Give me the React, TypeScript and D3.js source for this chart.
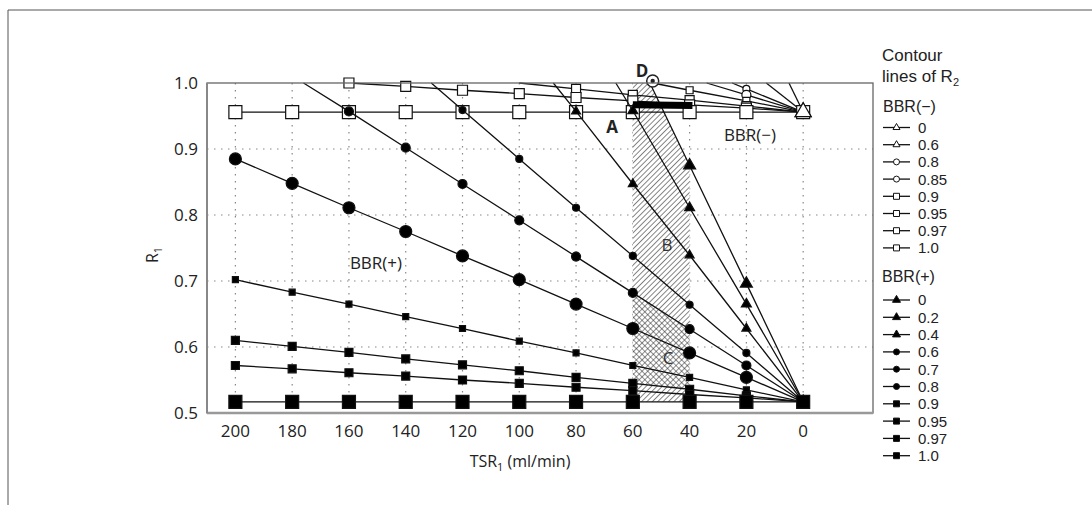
import React from "react";
import * as d3 from "d3";

// TSR1 positions where markers sit (ml/min)
const tsrTicks = [200, 180, 160, 140, 120, 100, 80, 60, 40, 20, 0];
const r1Ticks = [0.5, 0.6, 0.7, 0.8, 0.9, 1.0];

// BBR(+) contour lines of R2 (R1 at each TSR tick, null = above plot)
const plusLevels = ["0", "0.2", "0.4", "0.6", "0.7", "0.8", "0.9", "0.95", "0.97", "1.0"];
const plusR1: (number | null)[][] = [
  [null, null, null, null, null, null, null, null, 0.875, 0.696, 0.517],
  [null, null, null, null, null, null, null, 0.958, 0.811, 0.665, 0.517],
  [null, null, null, null, null, null, 0.957, 0.847, 0.739, 0.628, 0.517],
  [null, null, null, null, 0.959, 0.885, 0.811, 0.738, 0.664, 0.591, 0.517],
  [null, null, 0.957, 0.902, 0.847, 0.792, 0.737, 0.682, 0.627, 0.572, 0.517],
  [0.885, 0.848, 0.811, 0.775, 0.738, 0.702, 0.665, 0.628, 0.591, 0.554, 0.517],
  [0.702, 0.683, 0.665, 0.646, 0.628, 0.609, 0.591, 0.572, 0.554, 0.535, 0.517],
  [0.61, 0.601, 0.592, 0.582, 0.573, 0.564, 0.554, 0.545, 0.536, 0.526, 0.517],
  [0.572, 0.567, 0.561, 0.556, 0.55, 0.545, 0.539, 0.534, 0.528, 0.523, 0.517],
  [0.517, 0.517, 0.517, 0.517, 0.517, 0.517, 0.517, 0.517, 0.517, 0.517, 0.517],
];
// TSR1 where each line leaves the top of the plot (R1 = 1.0)
const plusTop: (number | null)[] = [54, 66, 88, 131, 176, null, null, null, null, null];

// BBR(-) contour lines of R2
const minusLevels = ["0", "0.6", "0.8", "0.85", "0.9", "0.95", "0.97", "1.0"];
const minusR1: (number | null)[][] = [
  [null, null, null, null, null, null, null, null, null, null, 0.956],
  [null, null, null, null, null, null, null, null, null, null, 0.956],
  [null, null, null, null, null, null, null, null, null, 0.991, 0.956],
  [null, null, null, null, null, null, null, null, null, 0.982, 0.956],
  [null, null, null, null, null, null, null, null, 0.989, 0.973, 0.956],
  [null, null, null, null, null, null, 0.991, 0.982, 0.974, 0.965, 0.956],
  [null, null, 1.0, 0.995, 0.989, 0.984, 0.978, 0.973, 0.967, 0.962, 0.956],
  [0.956, 0.956, 0.956, 0.956, 0.956, 0.956, 0.956, 0.956, 0.956, 0.956, 0.956],
];
const minusTop: (number | null)[] = [5, 13, 25, 34, 53, 100, 160, null];

// shaded regions
const hatchTsr = [60, 54, 40, 40, 60];
const hatchR1 = [1.0, 1.0, 0.875, 0.517, 0.517];
const crossTsr = [60, 40, 40, 60];
const crossR1 = [0.682, 0.627, 0.536, 0.545];
const barTsr = [60, 39];
const barR1 = [0.967, 0.966];
const pointD = { tsr: 53, r1: 1.0 };

// marker styles (shape, size in px)
const plusShape = ["tri", "tri", "tri", "circle", "circle", "circle", "square", "square", "square", "square"];
const plusSize = [12, 10, 9, 7, 9, 12, 6, 8, 8, 13];
const minusShape = ["tri", "tri", "circle", "circle", "square", "square", "square", "square"];
const minusSize = [16, 10, 7, 9, 7, 9, 10, 13];

const FONT = "'Open Sans', 'Noto Sans', sans-serif";
const LEG_FONT = "'Liberation Sans', 'Open Sans', sans-serif";

const x = d3.scaleLinear().domain([210, -24.6]).range([207, 873]);
const y = d3.scaleLinear().domain([0.5, 1.0]).range([413, 83]);

function symbolPath(shape: string, px: number) {
  if (shape === "tri") {
    return d3.symbol().type(d3.symbolTriangle).size((Math.sqrt(3) / 4) * px * px)()!;
  }
  if (shape === "circle") {
    return d3.symbol().type(d3.symbolCircle).size((Math.PI / 4) * px * px)()!;
  }
  return d3.symbol().type(d3.symbolSquare).size(px * px)()!;
}

function seriesPoints(vals: (number | null)[], top: number | null) {
  const pts: [number, number][] = [];
  if (top !== null) pts.push([top, 1.0]);
  vals.forEach((v, i) => {
    if (v !== null) pts.push([tsrTicks[i], v]);
  });
  return pts;
}

const line = d3
  .line<[number, number]>()
  .x((d) => x(d[0]))
  .y((d) => y(d[1]));

function Series({ vals, top, shape, size, filled }: any) {
  const pts = seriesPoints(vals, top);
  const marks = vals
    .map((v: number | null, i: number) => (v === null ? null : [tsrTicks[i], v]))
    .filter((d: any) => d !== null);
  return (
    <g>
      <path d={line(pts) || ""} fill="none" stroke="#111" strokeWidth={1.3} />
      {marks.map((d: any, i: number) => (
        <path
          key={i}
          d={symbolPath(shape, size)}
          transform={`translate(${x(d[0])},${y(d[1])})`}
          fill={filled ? "#000" : "#fff"}
          stroke="#111"
          strokeWidth={1.2}
        />
      ))}
    </g>
  );
}

export default function App() {
  const plotL = x(210), plotR = x(-24.6), plotT = y(1.0), plotB = y(0.5);
  const hatchPts = hatchTsr.map((t, i) => `${x(t)},${y(hatchR1[i])}`).join(" ");
  const crossPts = crossTsr.map((t, i) => `${x(t)},${y(crossR1[i])}`).join(" ");

  const legX = 883;
  const minusRowY = (i: number) => 127.5 + i * 17.2;
  const plusRowY = (i: number) => 300 + i * 17.3;

  return (
    <svg
      width={1092}
      height={505}
      style={{ position: "absolute", left: 0, top: 0, background: "#fff" }}
      fontFamily={FONT}
    >
      <defs>
        <pattern id="hatch" width={3.8} height={3.8} patternUnits="userSpaceOnUse" patternTransform="rotate(45)">
          <line x1={0} y1={0} x2={0} y2={3.8} stroke="#222" strokeWidth={1.1} />
        </pattern>
        <pattern id="cross" width={4} height={4} patternUnits="userSpaceOnUse" patternTransform="rotate(45)">
          <line x1={0} y1={0} x2={0} y2={4} stroke="#222" strokeWidth={1} />
          <line x1={0} y1={0} x2={4} y2={0} stroke="#222" strokeWidth={1} />
        </pattern>
      </defs>

      {/* page frame */}
      <line x1={8} y1={10} x2={1092} y2={10} stroke="#555" strokeWidth={1} />
      <line x1={8} y1={10} x2={8} y2={505} stroke="#555" strokeWidth={1} />

      {/* grid */}
      {tsrTicks.map((t) => (
        <line key={"gx" + t} x1={x(t)} x2={x(t)} y1={plotT} y2={plotB} stroke="#888" strokeWidth={1.2} strokeDasharray="1.5 5.5" />
      ))}
      {r1Ticks.slice(1, 5).map((v) => (
        <line key={"gy" + v} x1={plotL} x2={plotR} y1={y(v)} y2={y(v)} stroke="#888" strokeWidth={1.2} strokeDasharray="1.5 5.5" />
      ))}

      {/* shaded regions */}
      <polygon points={hatchPts} fill="#fff" />
      <polygon points={hatchPts} fill="url(#hatch)" />
      <polygon points={crossPts} fill="#fff" />
      <polygon points={crossPts} fill="url(#cross)" />

      {/* BBR(-) lines */}
      {minusR1.map((vals, i) => (
        <Series key={"m" + i} vals={vals} top={minusTop[i]} shape={minusShape[i]} size={minusSize[i]} filled={false} />
      ))}
      {/* BBR(+) lines */}
      {plusR1.map((vals, i) => (
        <Series key={"p" + i} vals={vals} top={plusTop[i]} shape={plusShape[i]} size={plusSize[i]} filled={true} />
      ))}
      {/* open triangle on convergence point of BBR(-) */}
      <path d={symbolPath("tri", 16)} transform={`translate(${x(0)},${y(0.956)})`} fill="#fff" stroke="#111" strokeWidth={1.2} />

      {/* thick bar */}
      <line x1={x(barTsr[0])} y1={y(barR1[0])} x2={x(barTsr[1])} y2={y(barR1[1])} stroke="#000" strokeWidth={7} />

      {/* point D */}
      <circle cx={x(pointD.tsr)} cy={y(pointD.r1) - 2} r={6} fill="#fff" stroke="#222" strokeWidth={1.5} />
      <circle cx={x(pointD.tsr)} cy={y(pointD.r1) - 2} r={2.2} fill="#222" />

      {/* frame */}
      <rect x={plotL} y={plotT} width={plotR - plotL} height={plotB - plotT} fill="none" stroke="#666" strokeWidth={1.3} />
      <line x1={plotL} x2={plotR} y1={plotB} y2={plotB} stroke="#999" strokeWidth={2.5} />
      <line x1={plotL} x2={plotL} y1={plotT} y2={plotB} stroke="#888" strokeWidth={2} />

      {/* tick labels */}
      {r1Ticks.map((v) => (
        <text key={"ty" + v} x={198} y={y(v)} dy="0.36em" textAnchor="end" fontSize={17} fill="#222">
          {v.toFixed(1)}
        </text>
      ))}
      {tsrTicks.map((t) => (
        <text key={"tx" + t} x={x(t)} y={437} textAnchor="middle" fontSize={17} fill="#222">
          {t}
        </text>
      ))}

      {/* axis titles */}
      <text transform="translate(158,255) rotate(-90)" textAnchor="middle" fontSize={16} fill="#222">
        R<tspan fontSize={11} dy={4}>1</tspan>
      </text>
      <text x={520} y={467} textAnchor="middle" fontSize={16} fill="#222">
        TSR<tspan fontSize={11} dy={4}>1</tspan>
        <tspan dy={-4}> (ml/min)</tspan>
      </text>

      {/* in-plot labels */}
      <text x={612} y={127} dy="0.36em" textAnchor="middle" fontSize={17} fontWeight="bold" fill="#222">A</text>
      <text x={667} y={245} dy="0.36em" textAnchor="middle" fontSize={17} fill="#333">B</text>
      <text x={668} y={358} dy="0.36em" textAnchor="middle" fontSize={17} fill="#333">C</text>
      <text x={642} y={71} dy="0.36em" textAnchor="middle" fontSize={17} fontWeight="bold" fill="#222">D</text>
      <text x={750} y={135} dy="0.36em" textAnchor="middle" fontSize={17} fill="#222">BBR(−)</text>
      <text x={376} y={263} dy="0.36em" textAnchor="middle" fontSize={17} fill="#222">BBR(+)</text>

      {/* legend */}
      <g fontFamily={LEG_FONT}>
        <text x={882} y={55} dy="0.36em" fontSize={17} fill="#222">Contour</text>
        <text x={882} y={76} dy="0.36em" fontSize={17} fill="#222">
          lines of R<tspan fontSize={11} dy={4}>2</tspan>
        </text>
        <text x={883} y={106} dy="0.36em" fontSize={16} fill="#222">BBR(−)</text>
        {minusLevels.map((lv, i) => (
          <g key={"lm" + i}>
            <line x1={legX} x2={legX + 27} y1={minusRowY(i)} y2={minusRowY(i)} stroke="#111" strokeWidth={1.3} />
            <path d={symbolPath(minusShape[i], minusShape[i] === "tri" ? 7 : 6)} transform={`translate(${legX + 13.5},${minusRowY(i)})`} fill="#fff" stroke="#111" strokeWidth={1} />
            <text x={legX + 35} y={minusRowY(i)} dy="0.36em" fontSize={15} fill="#222">{lv}</text>
          </g>
        ))}
        <text x={882} y={276} dy="0.36em" fontSize={16} fill="#222">BBR(+)</text>
        {plusLevels.map((lv, i) => (
          <g key={"lp" + i}>
            <line x1={legX} x2={legX + 27} y1={plusRowY(i)} y2={plusRowY(i)} stroke="#111" strokeWidth={1.3} />
            <path d={symbolPath(plusShape[i], plusShape[i] === "tri" ? 8 : 6)} transform={`translate(${legX + 13.5},${plusRowY(i)})`} fill="#000" stroke="#111" strokeWidth={1} />
            <text x={legX + 35} y={plusRowY(i)} dy="0.36em" fontSize={15} fill="#222">{lv}</text>
          </g>
        ))}
      </g>
    </svg>
  );
}
